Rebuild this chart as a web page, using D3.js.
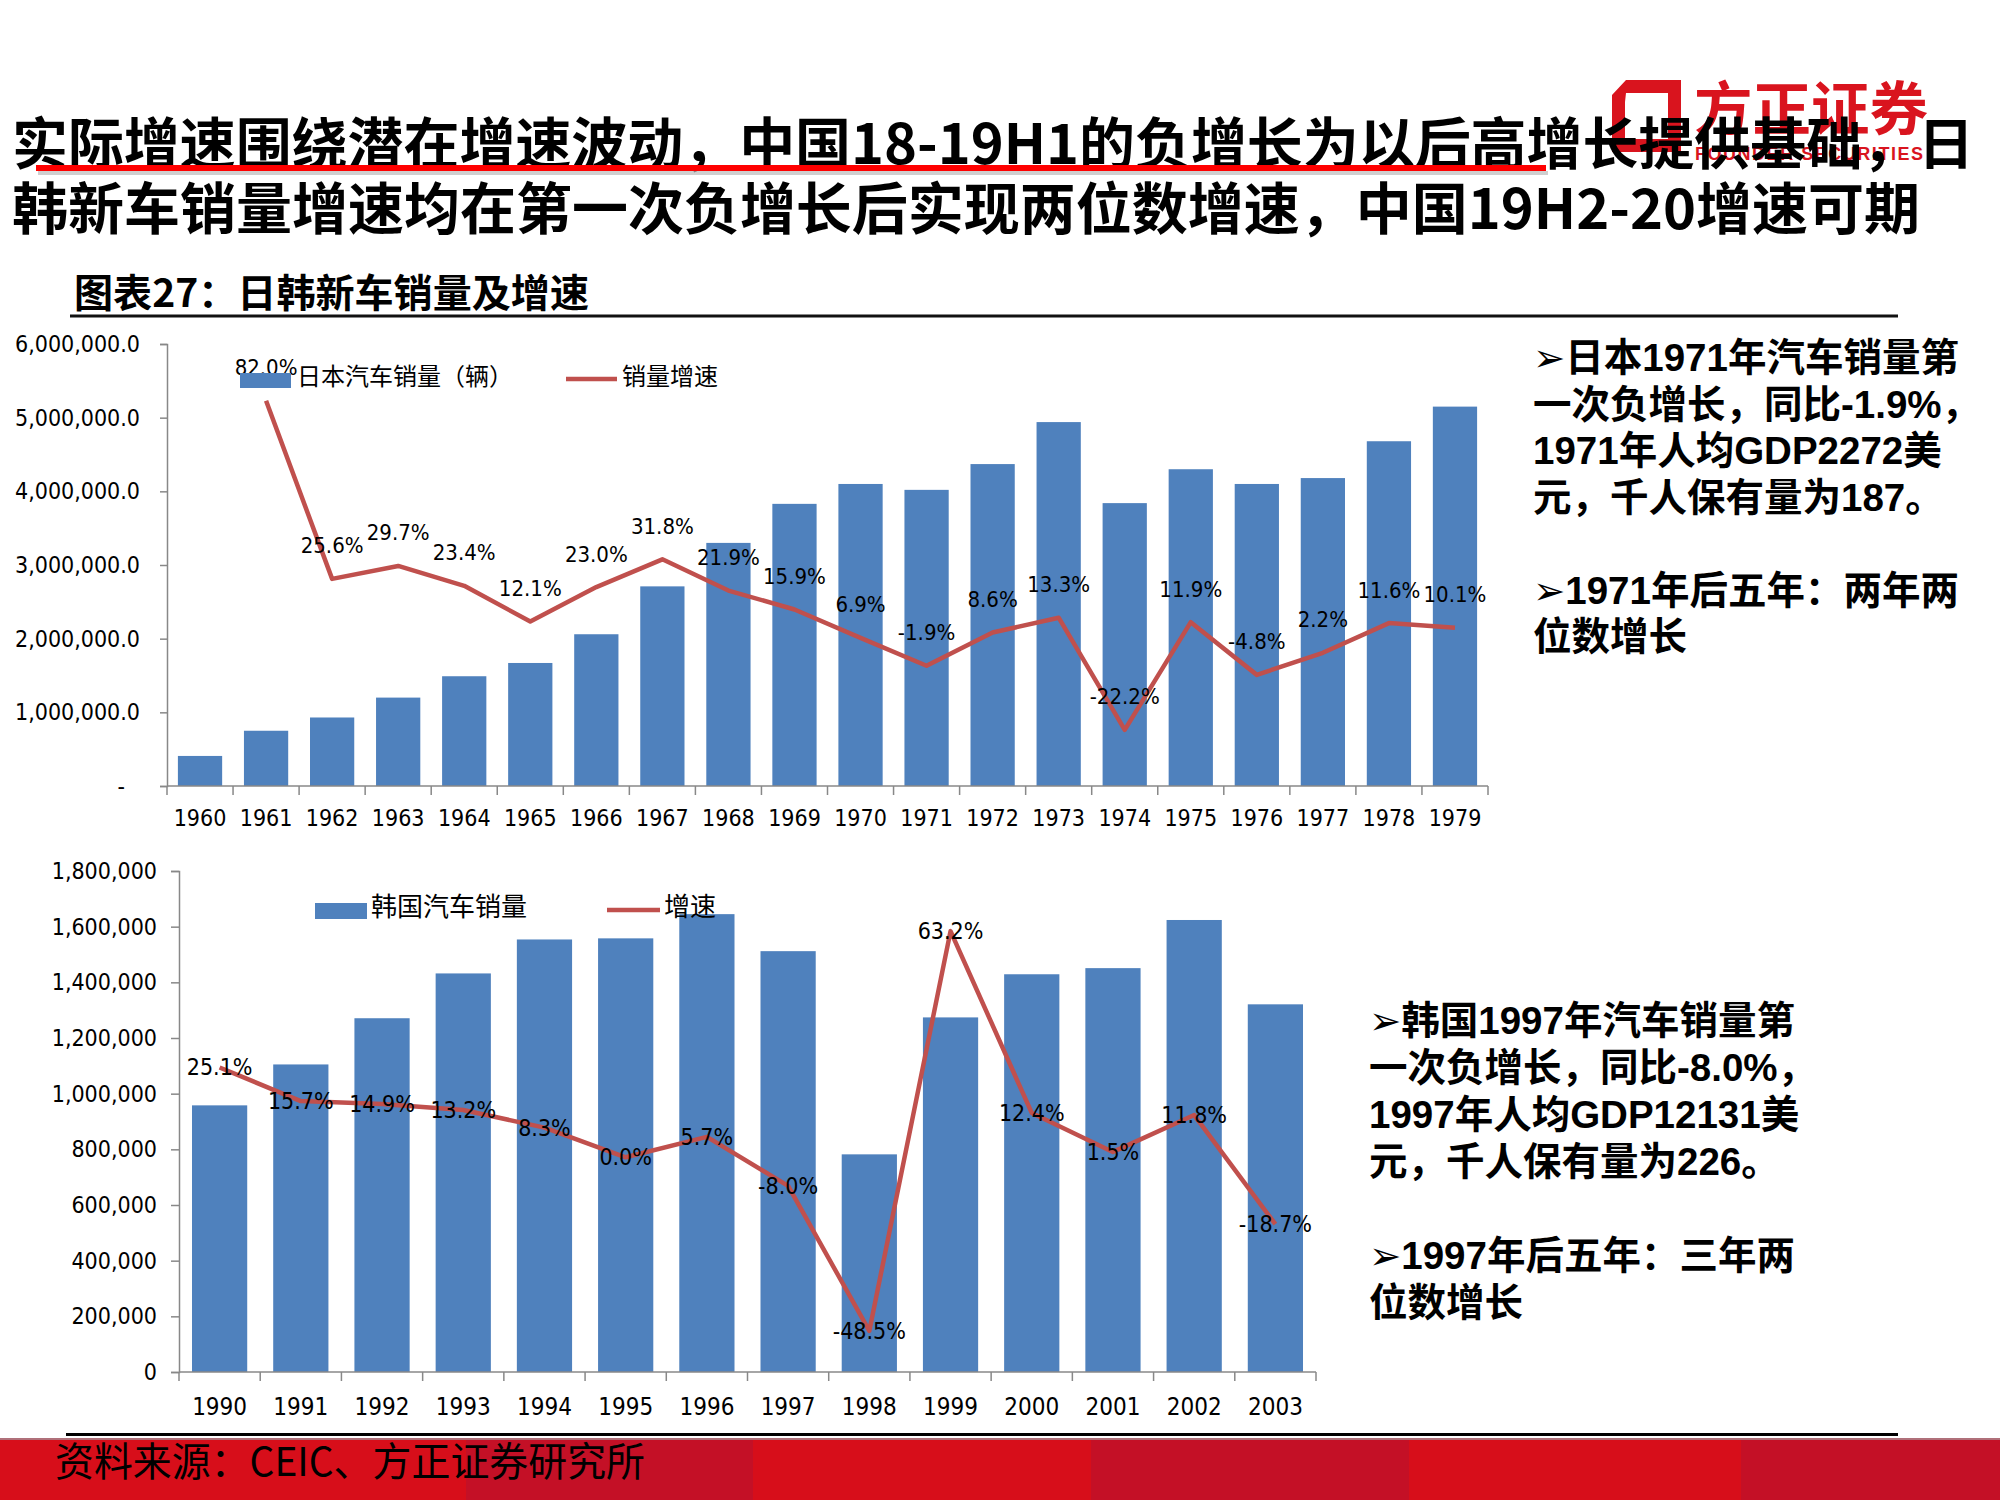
<!DOCTYPE html>
<html>
<head>
<meta charset="utf-8">
<script src="https://cdn.jsdelivr.net/npm/d3@7/dist/d3.min.js"></script>
<style>
  html, body { margin: 0; padding: 0; background: #fff; }
  svg { display: block; }
  .ax { font-family: "DejaVu Sans Condensed", "DejaVu Sans", sans-serif; font-stretch: condensed; }
  .cjk { font-family: "Noto Sans CJK SC", sans-serif; }
  .mix { font-family: "Liberation Sans", "Noto Sans CJK SC", "DejaVu Sans", sans-serif; }
</style>
</head>
<body>
<svg id="chart" width="2000" height="1500"></svg>
<script>
// ---------------- DATA ----------------
const titleLine1 = "实际增速围绕潜在增速波动，中国18-19H1的负增长为以后高增长提供基础，日";
const titleLine2 = "韩新车销量增速均在第一次负增长后实现两位数增速，中国19H2-20增速可期";
const subTitle = "图表27：日韩新车销量及增速";
const sourceText = "资料来源：CEIC、方正证券研究所";

const jpYears = ["1960","1961","1962","1963","1964","1965","1966","1967","1968","1969",
                 "1970","1971","1972","1973","1974","1975","1976","1977","1978","1979"];
const jpSales = [408000, 750000, 930000, 1200000, 1490000, 1670000, 2060000, 2710000, 3300000, 3830000,
                 4100000, 4020000, 4370000, 4940000, 3840000, 4300000, 4100000, 4180000, 4680000, 5150000];
const jpGrowth = [null, 82.0, 25.6, 29.7, 23.4, 12.1, 23.0, 31.8, 21.9, 15.9,
                  6.9, -1.9, 8.6, 13.3, -22.2, 11.9, -4.8, 2.2, 11.6, 10.1];
const jpYTicks = [0, 1000000, 2000000, 3000000, 4000000, 5000000, 6000000];
const jpLegend = ["日本汽车销量（辆）", "销量增速"];

const krYears = ["1990","1991","1992","1993","1994","1995","1996","1997","1998","1999",
                 "2000","2001","2002","2003"];
const krSales = [958000, 1105000, 1271000, 1432000, 1554000, 1558000, 1645000, 1512000, 782000, 1274000,
                 1429000, 1451000, 1624000, 1321000];
const krGrowth = [25.1, 15.7, 14.9, 13.2, 8.3, 0.0, 5.7, -8.0, -48.5, 63.2, 12.4, 1.5, 11.8, -18.7];
const krYTicks = [0, 200000, 400000, 600000, 800000, 1000000, 1200000, 1400000, 1600000, 1800000];
const krLegend = ["韩国汽车销量", "增速"];

const jpNotes = ["➢日本1971年汽车销量第", "一次负增长，同比-1.9%，", "1971年人均GDP2272美",
                 "元，千人保有量为187。", "", "➢1971年后五年：两年两", "位数增长"];
const krNotes = ["➢韩国1997年汽车销量第", "一次负增长，同比-8.0%，", "1997年人均GDP12131美",
                 "元，千人保有量为226。", "", "➢1997年后五年：三年两", "位数增长"];

// ---------------- STYLE ----------------
const BAR = "#4F81BD", LINE = "#C0504D", AXIS = "#888888";

const svg = d3.select("#chart");

// ---------------- HEADER ----------------
// logo
const logo = svg.append("g");
logo.append("path")
  .attr("d", "M1626,80 L1681,80 L1681,152 L1612,152 L1612,95 Z M1626,93 L1668,93 L1668,139 L1625,139 L1625,102 Z")
  .attr("fill", "#D9141E").attr("fill-rule", "evenodd");
logo.append("text").attr("class", "cjk").attr("x", 1694).attr("y", 130)
  .attr("font-size", 58).attr("font-weight", 700).attr("fill", "#D9141E")
  .attr("textLength", 234).attr("lengthAdjust", "spacingAndGlyphs")
  .text("方正证券");
logo.append("text").attr("class", "mix").attr("x", 1695).attr("y", 160)
  .attr("font-size", 18).attr("font-weight", 700).attr("fill", "#D9141E")
  .attr("textLength", 228).attr("lengthAdjust", "spacing")
  .text("FOUNDER SECURITIES");

svg.append("text").attr("class", "cjk").attr("x", 12).attr("y", 164)
  .attr("font-size", 56).attr("font-weight", 700).attr("fill", "#000")
  .attr("textLength", 1962).attr("lengthAdjust", "spacingAndGlyphs")
  .text(titleLine1);
svg.append("text").attr("class", "cjk").attr("x", 12).attr("y", 229)
  .attr("font-size", 56).attr("font-weight", 700).attr("fill", "#000")
  .attr("textLength", 1908).attr("lengthAdjust", "spacingAndGlyphs")
  .text(titleLine2);
// red underline with shadow
svg.append("line").attr("x1", 38).attr("x2", 1548).attr("y1", 173).attr("y2", 173)
  .attr("stroke", "#bbbbbb").attr("stroke-width", 4).attr("opacity", 0.7);
svg.append("line").attr("x1", 36).attr("x2", 1546).attr("y1", 168).attr("y2", 168)
  .attr("stroke", "#FF0000").attr("stroke-width", 6);

svg.append("text").attr("class", "cjk").attr("x", 74).attr("y", 307)
  .attr("font-size", 39).attr("font-weight", 700).attr("fill", "#000")
  .attr("textLength", 515).attr("lengthAdjust", "spacingAndGlyphs")
  .text(subTitle);
svg.append("line").attr("x1", 70).attr("x2", 1898).attr("y1", 316).attr("y2", 316)
  .attr("stroke", "#111").attr("stroke-width", 3);

// ---------------- CHART BUILDER ----------------
function drawChart(opt) {
  const g = svg.append("g");
  const x = d3.scaleBand().domain(opt.years).range([opt.x0, opt.x1])
    .paddingInner(opt.pad).paddingOuter(opt.pad / 2);
  const y = d3.scaleLinear().domain([0, opt.yMax]).range([opt.yb, opt.yt]);
  const y2 = d3.scaleLinear().domain(opt.y2dom).range([opt.yb, opt.yt]);

  // bars
  g.selectAll("rect.bar").data(opt.years).join("rect").attr("class", "bar")
    .attr("x", d => x(d)).attr("width", x.bandwidth())
    .attr("y", (d, i) => y(opt.sales[i]))
    .attr("height", (d, i) => y(0) - y(opt.sales[i]))
    .attr("fill", BAR);

  // y axis
  const ya = g.append("g").attr("class", "ax").attr("transform", `translate(${opt.x0},0)`)
    .call(d3.axisLeft(y).tickValues(opt.yTicks).tickSizeOuter(0).tickSize(opt.tick)
      .tickPadding(opt.tickPad).tickFormat(opt.fmt));
  ya.select(".domain").attr("stroke", AXIS).attr("stroke-width", 1.5);
  ya.selectAll(".tick line").attr("stroke", AXIS).attr("stroke-width", 1.5);
  ya.selectAll(".tick text").attr("font-size", opt.yFont).attr("fill", "#000")
    .attr("font-family", "DejaVu Sans Condensed, DejaVu Sans, sans-serif");
  if (opt.zeroShift) {
    ya.selectAll(".tick").filter(d => d === 0).select("text").attr("dx", opt.zeroShift);
  }

  // x axis
  const xa = g.append("g").attr("class", "ax").attr("transform", `translate(0,${opt.yb})`)
    .call(d3.axisBottom(x).tickSize(0).tickPadding(opt.xPad).tickSizeOuter(0));
  xa.select(".domain").attr("stroke", AXIS).attr("stroke-width", 1.5)
    .attr("d", `M${opt.x0},0H${opt.x1}`);
  xa.selectAll(".tick text").attr("font-size", opt.xFont).attr("fill", "#000")
    .attr("font-family", "DejaVu Sans Condensed, DejaVu Sans, sans-serif");
  const bounds = opt.years.map(d => x(d) - x.step() * x.paddingInner() / 2);
  bounds.push(opt.x1);
  xa.selectAll("line.bt").data(bounds).join("line").attr("class", "bt")
    .attr("x1", d => d).attr("x2", d => d).attr("y1", 0).attr("y2", 9)
    .attr("stroke", AXIS).attr("stroke-width", 1.5);

  // growth line
  const pts = opt.years.map((d, i) => ({ yr: d, v: opt.growth[i] })).filter(p => p.v !== null);
  const line = d3.line().x(p => x(p.yr) + x.bandwidth() / 2).y(p => y2(p.v));
  g.append("path").datum(pts).attr("d", line).attr("fill", "none")
    .attr("stroke", LINE).attr("stroke-width", 4.5).attr("stroke-linejoin", "round");

  // labels
  g.selectAll("text.lbl").data(pts).join("text").attr("class", "lbl ax")
    .attr("x", p => x(p.yr) + x.bandwidth() / 2)
    .attr("y", p => y2(p.v) + opt.lblDy)
    .attr("text-anchor", "middle").attr("dominant-baseline", "central")
    .attr("font-size", opt.lblFont).attr("fill", "#000")
    .text(p => p.v.toFixed(1) + "%");

  // legend
  const L = opt.legend;
  g.append("rect").attr("x", L.rx).attr("y", L.ry).attr("width", L.rw).attr("height", L.rh).attr("fill", BAR);
  g.append("text").attr("class", "cjk").attr("x", L.tx1).attr("y", L.ty).attr("dominant-baseline", "central")
    .attr("font-size", L.font).attr("fill", "#000").text(opt.legendText[0]);
  g.append("line").attr("x1", L.lx).attr("x2", L.lx + L.lw).attr("y1", L.ly).attr("y2", L.ly)
    .attr("stroke", LINE).attr("stroke-width", 4.5);
  g.append("text").attr("class", "cjk").attr("x", L.tx2).attr("y", L.ty).attr("dominant-baseline", "central")
    .attr("font-size", L.font).attr("fill", "#000").text(opt.legendText[1]);
}

const fmtJp = v => v === 0 ? "-" : d3.format(",.1f")(v);
drawChart({
  years: jpYears, sales: jpSales, growth: jpGrowth, yTicks: jpYTicks, legendText: jpLegend,
  x0: 167, x1: 1488, yt: 344, yb: 786, pad: 0.33, yMax: 6000000, y2dom: [-40, 100],
  tick: 7, tickPad: 20, fmt: fmtJp, zeroShift: -15, yFont: 23, xFont: 23, xPad: 24,
  lblDy: -33, lblFont: 22,
  legend: { rx: 240, ry: 373, rw: 51, rh: 15, tx1: 297, ty: 374, lx: 566, lw: 51, ly: 379, tx2: 622, font: 24 }
});

const fmtKr = v => d3.format(",")(v);
drawChart({
  years: krYears, sales: krSales, growth: krGrowth, yTicks: krYTicks, legendText: krLegend,
  x0: 179, x1: 1316, yt: 871, yb: 1372, pad: 0.32, yMax: 1800000, y2dom: [-60, 80],
  tick: 8, tickPad: 14, fmt: fmtKr, zeroShift: 0, yFont: 23, xFont: 24, xPad: 26,
  lblDy: 0, lblFont: 23,
  legend: { rx: 315, ry: 903, rw: 52, rh: 16, tx1: 371, ty: 904, lx: 607, lw: 53, ly: 910, tx2: 664, font: 26 }
});

// ---------------- NOTES ----------------
function notes(lines, x, y0, lh) {
  const t = svg.append("text").attr("class", "mix").attr("font-size", 38.5).attr("font-weight", 700).attr("fill", "#000");
  lines.forEach((s, i) => {
    if (s === "") return;
    t.append("tspan").attr("x", x).attr("y", y0 + i * lh).text(s);
  });
}
notes(jpNotes, 1533, 371, 46.5);
notes(krNotes, 1369, 1034, 47);

// ---------------- FOOTER ----------------
svg.append("line").attr("x1", 66).attr("x2", 1898).attr("y1", 1434.5).attr("y2", 1434.5)
  .attr("stroke", "#000").attr("stroke-width", 3);
const stripes = [[0, 466, "#D70E1A"], [466, 753, "#C41026"], [753, 1091, "#D70E1A"],
                 [1091, 1409, "#C41026"], [1409, 1741, "#D70E1A"], [1741, 2000, "#C41026"]];
svg.selectAll("rect.stripe").data(stripes).join("rect").attr("class", "stripe")
  .attr("x", d => d[0]).attr("width", d => d[1] - d[0]).attr("y", 1439).attr("height", 61)
  .attr("fill", d => d[2]);
svg.append("rect").attr("x", 0).attr("y", 1438).attr("width", 2000).attr("height", 2).attr("fill", "#b0707a");
svg.append("text").attr("class", "cjk").attr("x", 55).attr("y", 1476)
  .attr("font-size", 40).attr("fill", "#000")
  .attr("textLength", 590).attr("lengthAdjust", "spacingAndGlyphs")
  .text(sourceText);
</script>
</body>
</html>
